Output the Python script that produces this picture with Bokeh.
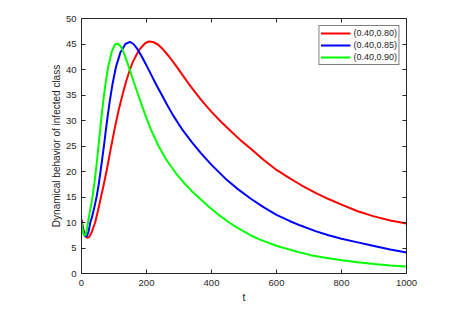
from bokeh.plotting import figure
from bokeh.models import LinearAxis, Range1d, FixedTicker, Legend, LegendItem
from bokeh.embed import file_html
from bokeh.resources import INLINE

# ---- data ----
t_red = [0, 4, 8, 13, 18, 24, 32, 42, 51, 60, 69, 78, 91, 104, 115, 126, 137, 148, 158, 170,
         182, 195, 207, 220, 235, 250, 270, 290, 310, 330, 350, 370, 400, 430, 463, 490, 520,
         560, 600, 640, 674, 720, 760, 800, 850, 900, 950, 1000]
y_red = [10.6, 9.2, 8.1, 7.3, 7.0, 7.2, 8.2, 10.0, 12.4, 15.0, 17.6, 20.4, 24.8, 29.0, 32.2,
         35.0, 37.6, 39.8, 41.5, 43.0, 44.2, 45.1, 45.5, 45.4, 44.9, 44.0, 42.5, 40.8, 39.0,
         37.2, 35.5, 33.9, 31.7, 29.7, 27.7, 26.1, 24.5, 22.3, 20.3, 18.7, 17.4, 15.8, 14.6,
         13.5, 12.2, 11.2, 10.4, 9.8]

t_blue = [0, 4, 8, 12, 17, 22, 27, 32, 37, 42, 47, 53, 59, 64, 69, 74, 80, 87, 95, 106, 120,
          135, 149, 160, 171, 185, 200, 215, 230, 248, 265, 280, 300, 315, 340, 366, 400, 443,
          480, 520, 560, 600, 640, 674, 720, 760, 800, 850, 900, 950, 1000]
y_blue = [10.3, 8.8, 7.7, 7.25, 7.4, 8.3, 10.0, 11.0, 12.3, 13.7, 15.2, 17.5, 20.2, 22.6, 25.0,
          27.6, 30.6, 33.8, 37.0, 40.5, 43.4, 45.0, 45.4, 45.0, 44.1, 42.6, 40.8, 38.9, 37.0,
          34.9, 32.9, 31.2, 29.2, 27.8, 25.7, 23.7, 21.3, 18.6, 16.6, 14.7, 13.0, 11.5, 10.3,
          9.4, 8.3, 7.5, 6.8, 6.1, 5.4, 4.7, 4.1]

t_green = [0, 3, 6, 9, 13, 17, 20, 24, 28, 32, 36, 40, 44, 48, 52, 57, 62, 68, 75, 83, 93, 103,
           111, 120, 130, 143, 160, 178, 195, 213, 237, 262, 290, 315, 340, 366, 390, 418, 450,
           479, 520, 551, 602, 623, 674, 705, 750, 802, 850, 900, 950, 1000]
y_green = [10.0, 8.8, 7.8, 7.4, 7.6, 8.8, 10.0, 11.5, 12.9, 14.3, 16.0, 17.9, 20.0, 22.3, 24.8,
           27.9, 31.0, 34.4, 37.7, 40.8, 43.5, 44.9, 45.1, 44.6, 43.3, 41.0, 37.7, 34.4, 31.3,
           28.3, 25.0, 22.2, 19.7, 17.8, 16.1, 14.6, 13.2, 11.7, 10.2, 9.0, 7.5, 6.6, 5.4, 5.0,
           4.1, 3.6, 3.1, 2.6, 2.2, 1.85, 1.55, 1.35]

series_labels = ["(0.40,0.80)", "(0.40,0.85)", "(0.40,0.90)"]
series_colors = ["#ff0000", "#0000ff", "#00ff00"]
x_ticks = [0, 200, 400, 600, 800, 1000]
y_ticks = [0, 5, 10, 15, 20, 25, 30, 35, 40, 45, 50]

FONT = "Liberation Sans"
TXT = "#262626"

p = figure(width=450, height=305, output_backend="svg", toolbar_location=None,
           x_range=Range1d(0, 1000), y_range=Range1d(0, 50),
           min_border_left=81, min_border_right=44, min_border_top=18, min_border_bottom=32,
           x_axis_location=None, y_axis_location=None)
p.xgrid.visible = False
p.ygrid.visible = False
p.outline_line_color = None
p.background_fill_color = "white"
p.border_fill_color = "white"


def style_axis(ax, labels=True):
    ax.axis_line_color = TXT
    ax.axis_line_width = 1
    ax.major_tick_line_color = TXT
    ax.major_tick_in = 4
    ax.major_tick_out = 0
    ax.minor_tick_line_color = None
    ax.major_label_text_font = FONT
    ax.major_label_text_font_size = "9.5px" if labels else "0px"
    ax.major_label_text_color = TXT if labels else None
    ax.axis_label_text_font = FONT
    ax.axis_label_text_font_size = "10px"
    ax.axis_label_text_font_style = "normal"
    ax.axis_label_text_color = TXT


xb = LinearAxis(ticker=FixedTicker(ticks=x_ticks), axis_label="t")
style_axis(xb)
xb.axis_label_text_font_size = "10.5px"
xb.major_label_standoff = 6
xb.axis_label_standoff = 2
p.add_layout(xb, "below")

yl = LinearAxis(ticker=FixedTicker(ticks=y_ticks), axis_label="Dynamical behavior of infected class")
style_axis(yl)
yl.axis_label_text_font_size = "10px"
yl.major_label_standoff = 5
yl.axis_label_standoff = 1
p.add_layout(yl, "left")

xt = LinearAxis(ticker=FixedTicker(ticks=x_ticks))
style_axis(xt, labels=False)
p.add_layout(xt, "above")

yr = LinearAxis(ticker=FixedTicker(ticks=y_ticks))
style_axis(yr, labels=False)
p.add_layout(yr, "right")

r1 = p.line(t_red, y_red, line_color=series_colors[0], line_width=2)
r2 = p.line(t_blue, y_blue, line_color=series_colors[1], line_width=2)
r3 = p.line(t_green, y_green, line_color=series_colors[2], line_width=2)

legend = Legend(items=[LegendItem(label=series_labels[0], renderers=[r1]),
                       LegendItem(label=series_labels[1], renderers=[r2]),
                       LegendItem(label=series_labels[2], renderers=[r3])],
                location="top_right")
legend.margin = 7
legend.padding = 1
legend.spacing = 0
legend.glyph_width = 30
legend.glyph_height = 12
legend.label_height = 12
legend.label_standoff = 3
legend.label_text_font = FONT
legend.label_text_font_size = "9px"
legend.label_text_color = TXT
legend.border_line_color = "#000000"
legend.border_line_width = 1
legend.background_fill_color = "white"
legend.background_fill_alpha = 1
p.add_layout(legend, "center")

open("out.html", "w").write(file_html(p, INLINE))
